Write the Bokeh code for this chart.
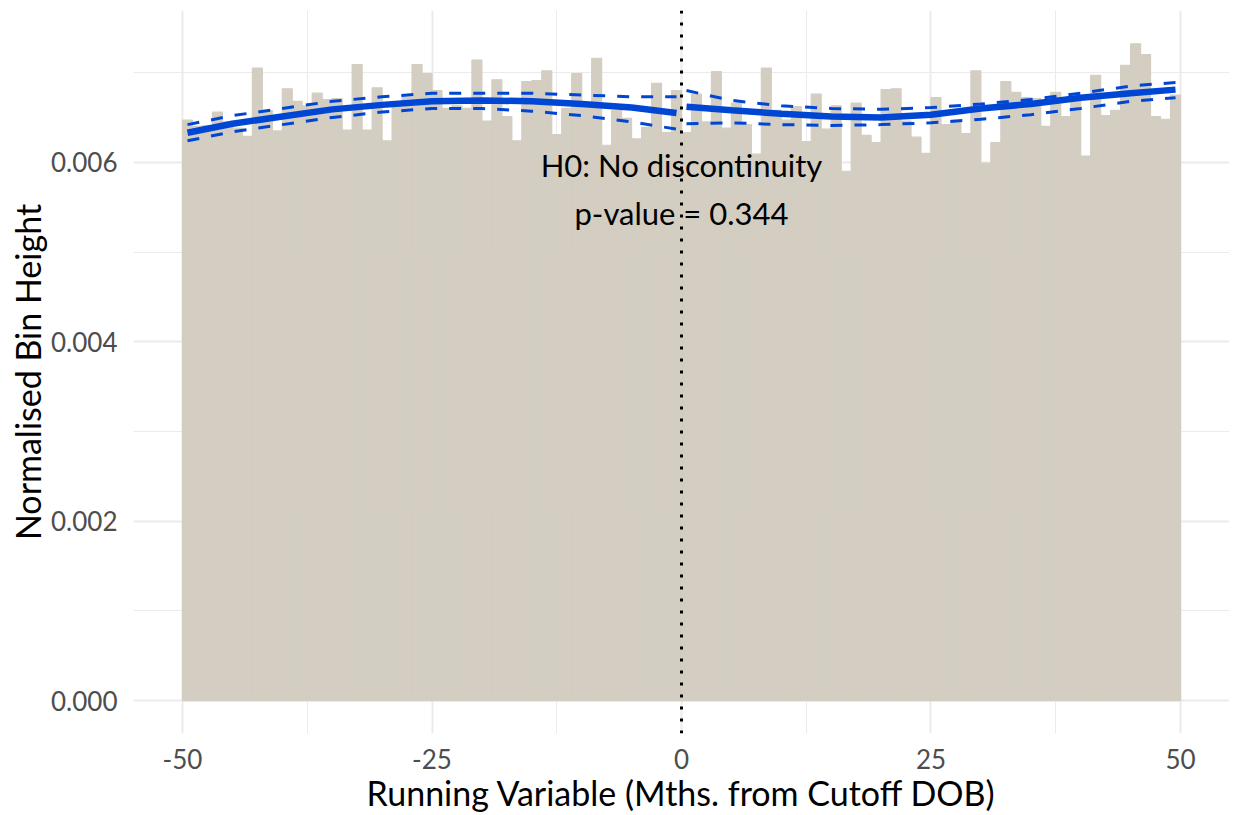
from bokeh.plotting import figure
from bokeh.models import Range1d, FixedTicker, Span, Label, NumeralTickFormatter, PrintfTickFormatter
from bokeh.embed import file_html
from bokeh.resources import INLINE

# ---- data ----
bin_start = -50.0
bin_width = 1.0
bin_heights = [
    0.00647, 0.00640, 0.00641, 0.00656, 0.00645, 0.00638, 0.00629, 0.00705, 0.00658, 0.00635,
    0.00682, 0.00668, 0.00663, 0.00677, 0.00670, 0.00671, 0.00636, 0.00709, 0.00636, 0.00683,
    0.00624, 0.00662, 0.00673, 0.00709, 0.00699, 0.00680, 0.00660, 0.00663, 0.00660, 0.00714,
    0.00646, 0.00692, 0.00651, 0.00624, 0.00690, 0.00691, 0.00702, 0.00631, 0.00660, 0.00699,
    0.00665, 0.00716, 0.00619, 0.00658, 0.00649, 0.00626, 0.00639, 0.00688, 0.00633, 0.00680,
    0.00633, 0.00676, 0.00645, 0.00701, 0.00638, 0.00666, 0.00642, 0.00609, 0.00705, 0.00658,
    0.00647, 0.00662, 0.00623, 0.00676, 0.00637, 0.00663, 0.00590, 0.00666, 0.00630, 0.00622,
    0.00681, 0.00682, 0.00646, 0.00628, 0.00610, 0.00672, 0.00642, 0.00647, 0.00632, 0.00702,
    0.00599, 0.00622, 0.00690, 0.00678, 0.00672, 0.00671, 0.00640, 0.00678, 0.00651, 0.00671,
    0.00607, 0.00697, 0.00652, 0.00658, 0.00708, 0.00732, 0.00720, 0.00651, 0.00648, 0.00675,
]

left_x = [-49.5, -45, -40, -35, -30, -25, -20, -15, -10, -5, -0.5]
left_fit = [0.00633, 0.00643, 0.00651, 0.00659, 0.00664, 0.00668, 0.00669, 0.00668, 0.00665, 0.00661, 0.00655]
left_upper = [0.00642, 0.00652, 0.00660, 0.00668, 0.00673, 0.00677, 0.00677, 0.00677, 0.00675, 0.00673, 0.00673]
left_lower = [0.00624, 0.00634, 0.00642, 0.00650, 0.00656, 0.00660, 0.00660, 0.00657, 0.00652, 0.00645, 0.00637]

right_x = [0.5, 5, 10, 15, 20, 25, 30, 35, 40, 45, 49.5]
right_fit = [0.00662, 0.00658, 0.00654, 0.00651, 0.00650, 0.00653, 0.00660, 0.00665, 0.00672, 0.00677, 0.00681]
right_upper = [0.00680, 0.00669, 0.00663, 0.00660, 0.00659, 0.00661, 0.00665, 0.00670, 0.00677, 0.00685, 0.00689]
right_lower = [0.00643, 0.00644, 0.00642, 0.00641, 0.00642, 0.00644, 0.00648, 0.00653, 0.00660, 0.00668, 0.00672]

x_ticks = [-50, -25, 0, 25, 50]
x_minor = [-37.5, -12.5, 12.5, 37.5]
y_ticks = [0.0, 0.002, 0.004, 0.006]
y_minor = [0.001, 0.003, 0.005, 0.007]

cutoff = 0.0
annot_lines = ["H0: No discontinuity", "p-value = 0.344"]
annot_y = [0.005975, 0.005440]

# ---- style ----
FONT = "Lato"
BAR = "#D3CEC1"
BLUE = "#0046D5"
GRID = "#EBEBEB"

p = figure(width=1235, height=815, output_backend="svg", toolbar_location=None,
           x_range=Range1d(-54.91, 54.91), y_range=Range1d(-0.000367, 0.007692),
           min_border_left=133, min_border_right=6, min_border_top=10, min_border_bottom=81)
p.outline_line_color = None
p.background_fill_color = "white"
p.border_fill_color = "white"

centers = [bin_start + bin_width * (i + 0.5) for i in range(len(bin_heights))]
p.vbar(x=centers, width=bin_width, top=bin_heights, bottom=0,
       fill_color=BAR, line_color=BAR, line_width=1.2)

for xs, fit, up, lo in [(left_x, left_fit, left_upper, left_lower),
                        (right_x, right_fit, right_upper, right_lower)]:
    p.line(xs, up, line_color=BLUE, line_width=3, line_dash="12 12")
    p.line(xs, lo, line_color=BLUE, line_width=3, line_dash="12 12")
    p.line(xs, fit, line_color=BLUE, line_width=6.5)

p.add_layout(Span(location=cutoff, dimension="height", line_color="black",
                  line_width=3, line_dash="3 9"))

for t, yy in zip(annot_lines, annot_y):
    p.add_layout(Label(x=0, y=yy, text=t, text_align="center", text_baseline="middle",
                       text_font=FONT, text_font_size="31px", text_color="black"))

p.xaxis.ticker = FixedTicker(ticks=x_ticks, minor_ticks=x_minor)
p.yaxis.ticker = FixedTicker(ticks=y_ticks, minor_ticks=y_minor)
p.yaxis.formatter = NumeralTickFormatter(format="0.000")
p.xaxis.formatter = PrintfTickFormatter(format="%d")

p.xaxis.axis_label = "Running Variable (Mths. from Cutoff DOB)"
p.yaxis.axis_label = "Normalised Bin Height"

for ax in (p.xaxis, p.yaxis):
    ax.axis_line_color = None
    ax.major_tick_line_color = None
    ax.minor_tick_line_color = None
    ax.major_label_text_font = FONT
    ax.major_label_text_font_size = "26px"
    ax.major_label_text_color = "#4D4D4D"
    ax.axis_label_text_font = FONT
    ax.axis_label_text_font_size = "34px"
    ax.axis_label_text_font_style = "normal"
    ax.axis_label_text_color = "black"

p.xaxis.major_label_standoff = 9
p.xaxis.axis_label_standoff = 0
p.yaxis.major_label_standoff = 10
p.yaxis.axis_label_standoff = 0

for g in (p.xgrid, p.ygrid):
    g.grid_line_color = GRID
    g.grid_line_width = 2
    g.minor_grid_line_color = GRID
    g.minor_grid_line_width = 1

open("out.html", "w").write(file_html(p, INLINE))
